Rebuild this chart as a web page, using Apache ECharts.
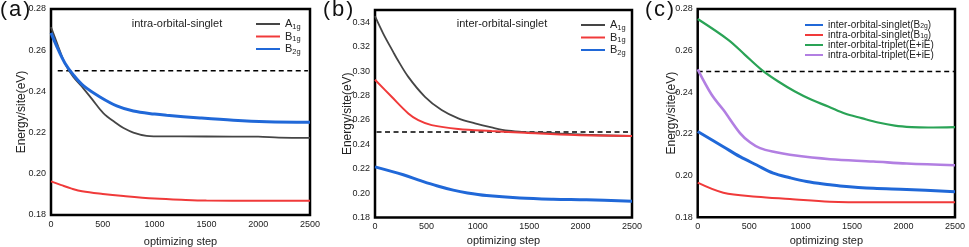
<!DOCTYPE html>
<html><head><meta charset="utf-8">
<script src="https://cdn.jsdelivr.net/npm/echarts@6/dist/echarts.min.js"></script>
<style>html,body{margin:0;padding:0;background:#fff}#c{width:969px;height:247px}</style>
</head><body><div id="c"></div>
<script>
// ---------- data ----------
const xTicks = [0, 500, 1000, 1500, 2000, 2500];
const dashedSteps = [0, 2500];
const dashedValue = 0.25;

// panel (a) intra-orbital-singlet
const aA1gSteps = [0,70,135,216,312,400,505,634,700,795,923,1000,1500,2000,2200,2500];
const aA1gVals  = [0.2712,0.2618,0.2535,0.2470,0.2415,0.2360,0.2295,0.2244,0.2222,0.2200,0.2184,0.2182,0.2181,0.2180,0.2176,0.2174];
const aB1gSteps = [0,100,200,300,500,700,1000,1300,1500,2000,2500];
const aB1gVals  = [0.1963,0.1945,0.1928,0.1915,0.1902,0.1892,0.1880,0.1873,0.1870,0.1869,0.1869];
const aB2gSteps = [0,71,135,216,312,473,634,795,1000,1116,1438,1760,2082,2500];
const aB2gVals  = [0.2684,0.2601,0.2537,0.2480,0.2428,0.2373,0.2330,0.2305,0.2290,0.2284,0.2271,0.2260,0.2253,0.2250];

// panel (b) inter-orbital-singlet
const bA1gSteps = [0,80,178,211,324,486,648,810,972,1134,1296,1458,1782,2106,2500];
const bA1gVals  = [0.3449,0.3307,0.3155,0.3105,0.2952,0.2789,0.2680,0.2612,0.2571,0.2538,0.2511,0.2500,0.2490,0.2476,0.2468];
const bB1gSteps = [0,162,324,421,551,810,1134,1458,1944,2500];
const bB1gVals  = [0.2928,0.2789,0.2653,0.2598,0.2557,0.2525,0.2508,0.2494,0.2475,0.2468];
const bB2gSteps = [0,275,450,600,761,900,1085,1409,1733,2057,2500];
const bB2gVals  = [0.2215,0.2150,0.2100,0.2060,0.2024,0.2001,0.1980,0.1960,0.1950,0.1945,0.1934];

// panel (c) comparison
const cInterSingSteps = [0,249,411,573,734,896,1058,1285,1383,1707,2030,2500];
const cInterSingVals  = [0.2212,0.2139,0.2091,0.2051,0.2012,0.1990,0.1972,0.1956,0.1950,0.1939,0.1934,0.1923];
const cIntraSingSteps = [0,249,573,896,1285,1700,2100,2500];
const cIntraSingVals  = [0.1966,0.1918,0.1899,0.1888,0.1875,0.1872,0.1872,0.1872];
const cInterTripSteps = [0,297,459,621,783,945,1107,1268,1430,1592,1753,1915,2077,2239,2500];
const cInterTripVals  = [0.2752,0.2652,0.2580,0.2508,0.2452,0.2404,0.2364,0.2332,0.2298,0.2276,0.2255,0.2240,0.2233,0.2231,0.2233];
const cIntraTripSteps = [0,136,249,411,508,606,750,896,1285,1707,2030,2500];
const cIntraTripVals  = [0.2510,0.2388,0.2316,0.2204,0.2160,0.2132,0.2113,0.2100,0.2079,0.2068,0.2058,0.2050];

const panelLetters = ['a', 'b', 'c'];
const panelTitles = ['intra-orbital-singlet', 'inter-orbital-singlet'];
const legendA = ['A1g', 'B1g', 'B2g'];
const legendC = ['inter-orbital-singlet(B2g)', 'intra-orbital-singlet(B1g)', 'inter-orbital-triplet(E+iE)', 'intra-orbital-triplet(E+iE)'];

// ---------- chart ----------
const C = { black:'#454545', red:'#f03a3a', blue:'#2068d8', green:'#2aa356', purple:'#b27fe2' };
const zip = (xs, ys) => xs.map((x, i) => [x, ys[i]]);
const font = 'Liberation Sans, Arial, sans-serif';

const grids = [
  { left: 51, top: 9, width: 259, height: 206 },
  { left: 375, top: 10, width: 257, height: 207.5 },
  { left: 697.7, top: 9, width: 257.3, height: 208.3 }
].map(g => Object.assign(g, { show: true, borderColor: '#000', borderWidth: 2.5, backgroundColor: 'transparent',
  containLabel: false, outerBoundsMode: 'none' }));

const yRanges = [[0.18, 0.28], [0.18, 0.35], [0.18, 0.28]];
const yNameGaps = [23, 21, 20];
const xNameGaps = [21, 18, 18];

const xAxes = grids.map((g, i) => ({
  gridIndex: i, type: 'value', min: 0, max: 2500, interval: 500,
  name: 'optimizing step', nameLocation: 'middle', nameGap: xNameGaps[i], nameMoveOverlap: false,
  nameTextStyle: { fontFamily: font, fontSize: 11, color: '#222' },
  axisLine: { show: false }, axisTick: { show: false }, splitLine: { show: false },
  axisLabel: { fontFamily: font, fontSize: 9, color: '#222', margin: 5, formatter: v => String(v) }
}));
const yAxes = grids.map((g, i) => ({
  gridIndex: i, type: 'value', min: yRanges[i][0], max: yRanges[i][1], interval: 0.02,
  name: 'Energy/site(eV)', nameLocation: 'middle', nameGap: yNameGaps[i], nameMoveOverlap: false,
  nameTextStyle: { fontFamily: font, fontSize: 12, color: '#222' },
  axisLine: { show: false }, axisTick: { show: false }, splitLine: { show: false },
  axisLabel: { fontFamily: font, fontSize: 9, color: '#222', margin: 5, showMaxLabel: i !== 1,
    formatter: v => v.toFixed(2) }
}));

function line(name, xs, ys, color, idx, w) {
  return { name, type: 'line', xAxisIndex: idx, yAxisIndex: idx, data: zip(xs, ys),
    showSymbol: false, symbol: 'none', smooth: 0.35, lineStyle: { color, width: w || 2 }, itemStyle: { color }, z: 3 };
}
function dashed(idx, xs) {
  return { type: 'line', xAxisIndex: idx, yAxisIndex: idx, data: xs.map(x => [x, dashedValue]),
    showSymbol: false, symbol: 'none', silent: true,
    lineStyle: { color: '#000', width: 1.5, type: [5, 3.5] }, z: 2 };
}

const series = [
  dashed(0, [65, 2480]),
  line('a::' + legendA[0], aA1gSteps, aA1gVals, C.black, 0, 1.8),
  line('a::' + legendA[1], aB1gSteps, aB1gVals, C.red, 0, 2),
  line('a::' + legendA[2], aB2gSteps, aB2gVals, C.blue, 0, 3),
  dashed(1, [15, 2470]),
  line('b::' + legendA[0], bA1gSteps, bA1gVals, C.black, 1, 1.8),
  line('b::' + legendA[1], bB1gSteps, bB1gVals, C.red, 1, 2),
  line('b::' + legendA[2], bB2gSteps, bB2gVals, C.blue, 1, 3),
  dashed(2, dashedSteps),
  line('c::' + legendC[0], cInterSingSteps, cInterSingVals, C.blue, 2, 3),
  line('c::' + legendC[1], cIntraSingSteps, cIntraSingVals, C.red, 2, 2),
  line('c::' + legendC[2], cInterTripSteps, cInterTripVals, C.green, 2, 2.2),
  line('c::' + legendC[3], cIntraTripSteps, cIntraTripVals, C.purple, 2, 2.6)
];

const fmt = name => {
  const s = name.split('::')[1];
  const m = s.match(/^(.*?)([AB])(\d+g)(.*)$/);
  if (!m) return '{n|' + s + '}';
  return (m[1] ? '{n|' + m[1] + '}' : '') + '{n|' + m[2] + '}{s|' + m[3] + '}' + (m[4] ? '{n|' + m[4] + '}' : '');
};
const rich = (fs, lh) => ({ n: { fontFamily: font, fontSize: fs, color: '#222', lineHeight: lh },
  s: { fontFamily: font, fontSize: fs * 0.68, color: '#222', lineHeight: lh * 0.6, verticalAlign: 'bottom' } });

const legends = [
  { data: legendA.map(n => 'a::' + n), left: 256, top: 18.5, itemWidth: 24, itemGap: 1, textStyle: { rich: rich(11, 12) } },
  { data: legendA.map(n => 'b::' + n), left: 581, top: 19.5, itemWidth: 24, itemGap: 1, textStyle: { rich: rich(11, 12) } },
  { data: legendC.map(n => 'c::' + n), left: 805, top: 20, itemWidth: 18, itemGap: 0, textStyle: { rich: rich(10, 9) } }
].map(l => Object.assign(l, { orient: 'vertical', icon: 'rect', itemHeight: 2, formatter: fmt, selectedMode: false, padding: 0 }));

const letterText = l => ({ type: 'text', style: {
  text: '{p|(}{l|' + l + '}{p|)}', fill: '#111',
  rich: { p: { fontFamily: font, fontSize: 21, fill: '#111' },
          l: { fontFamily: font, fontSize: 22, fill: '#111', padding: [0, 2, 0, 2] } } } });

const chart = echarts.init(document.getElementById('c'), null, { renderer: 'canvas' });
chart.setOption({
  animation: false,
  backgroundColor: '#fff',
  grid: grids, xAxis: xAxes, yAxis: yAxes, legend: legends, series,
  graphic: [
    Object.assign(letterText(panelLetters[0]), { left: 0, top: -1 }),
    Object.assign(letterText(panelLetters[1]), { left: 323, top: -1 }),
    Object.assign(letterText(panelLetters[2]), { left: 645, top: -1 }),
    { type: 'text', x: 177, y: 24, style: { text: panelTitles[0], fontFamily: font, fontSize: 11, fill: '#222', align: 'center', verticalAlign: 'middle' } },
    { type: 'text', x: 502, y: 24, style: { text: panelTitles[1], fontFamily: font, fontSize: 11, fill: '#222', align: 'center', verticalAlign: 'middle' } }
  ]
});
</script></body></html>
